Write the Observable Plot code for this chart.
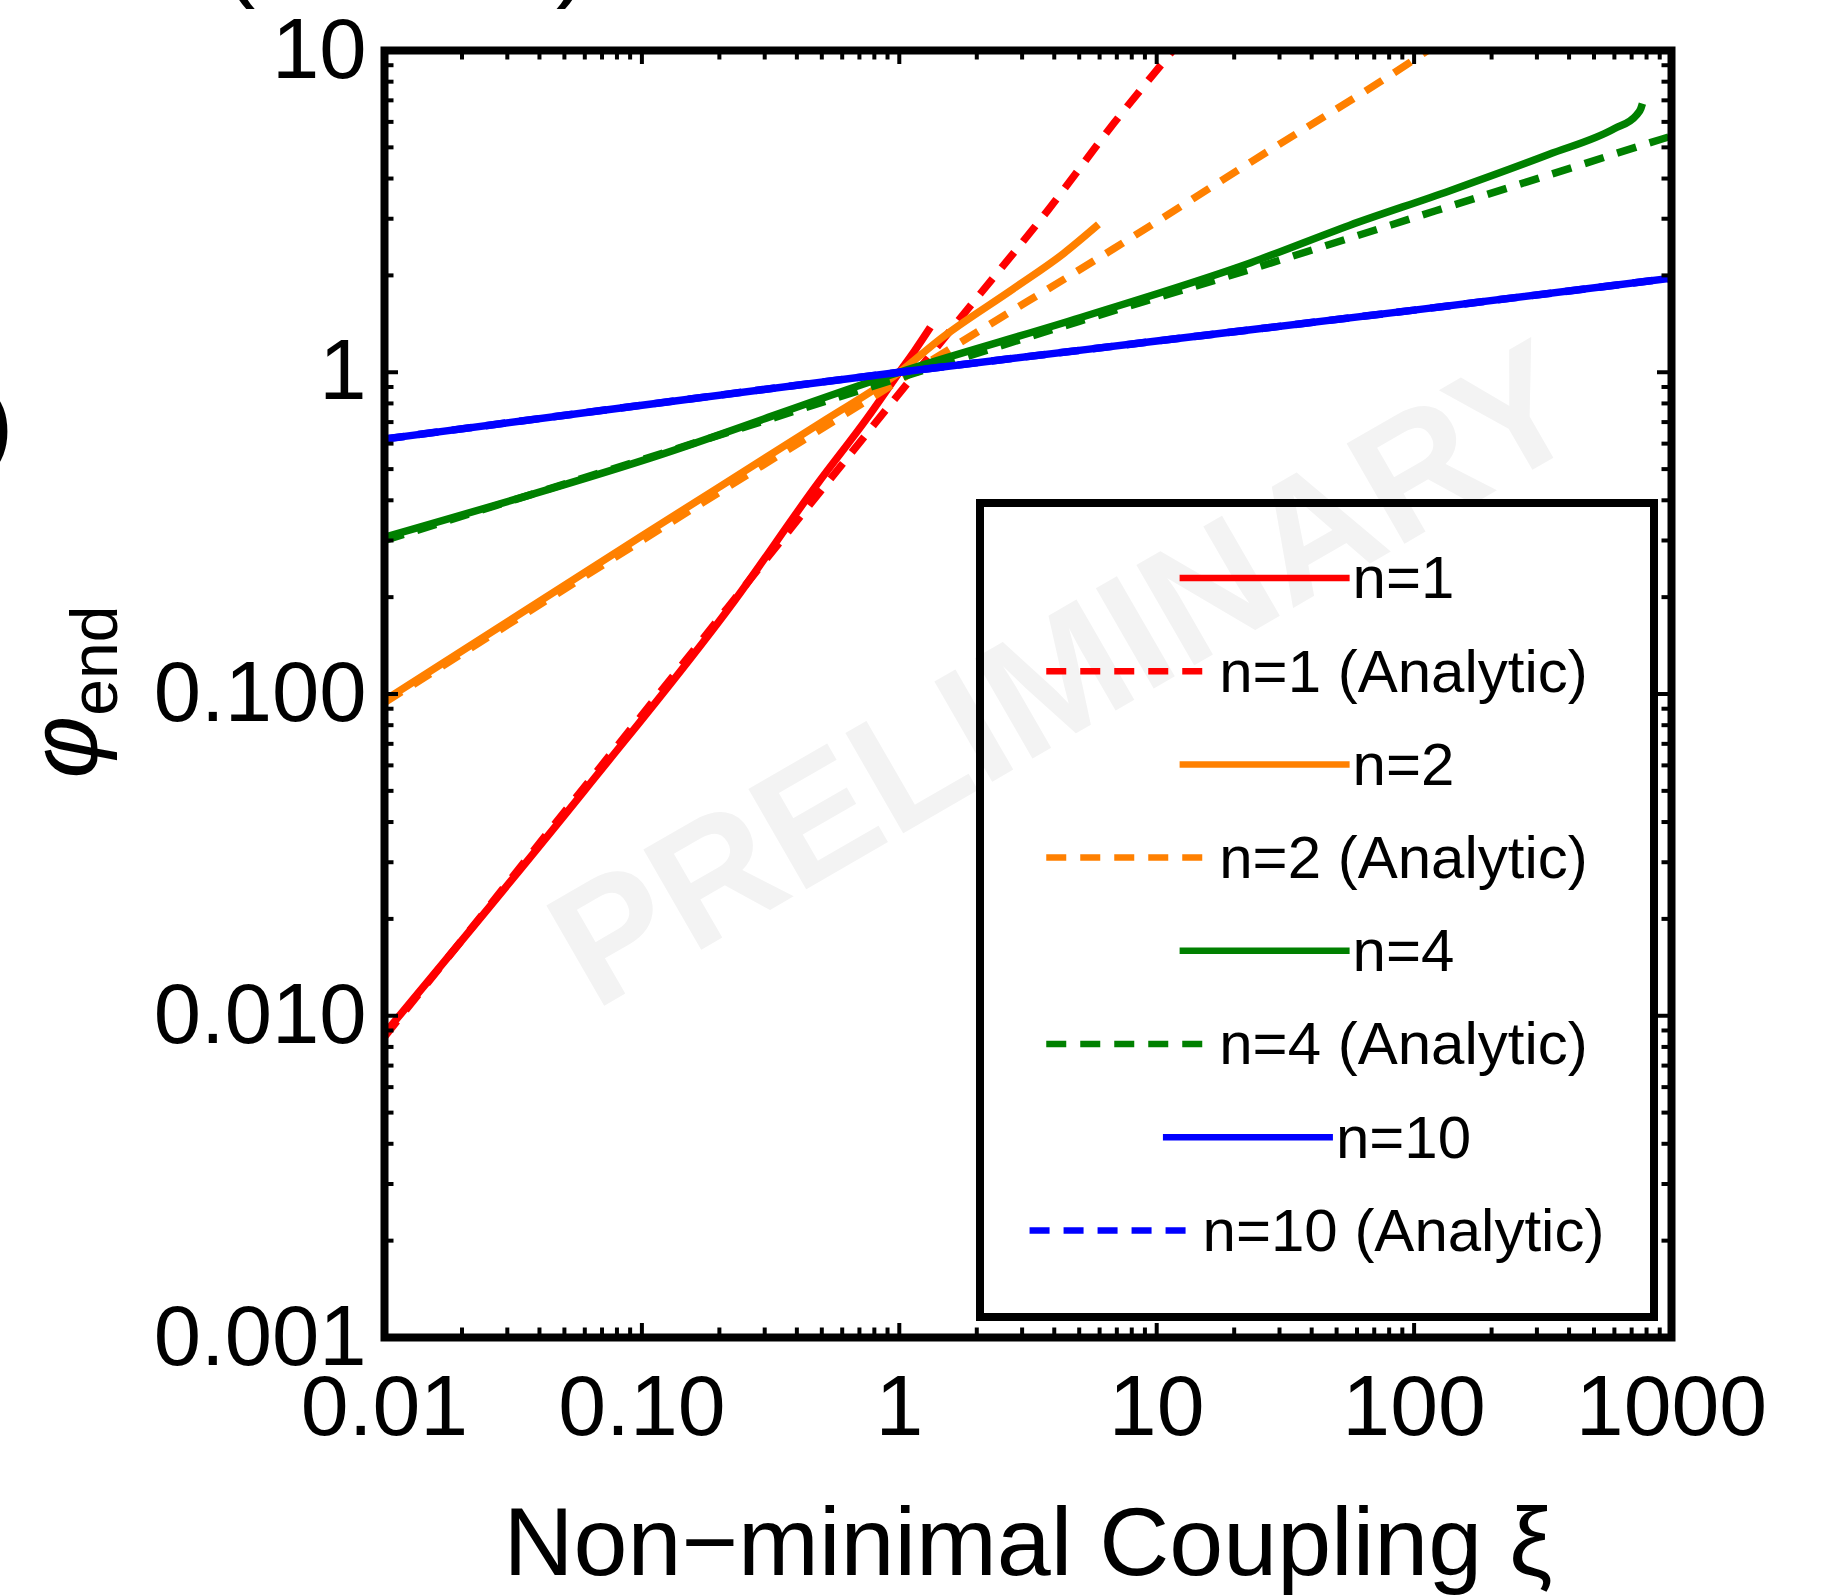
<!DOCTYPE html>
<html><head><meta charset="utf-8">
<script src="https://cdn.jsdelivr.net/npm/d3@7"></script>
<script src="https://cdn.jsdelivr.net/npm/@observablehq/plot@0.6"></script>
<style>
html,body{margin:0;padding:0;background:#fff;}
#chart{position:relative;width:1823px;height:1596px;overflow:hidden;}
svg{display:block;}
</style></head><body><div id="chart"></div>
<script>
// ---- layout ----
const W = 1823, H = 1596;
const mL = 384, mR = 152, mT = 50, mB = 259;
const innerW = W - mL - mR, innerH = H - mT - mB;
const FONT = "Liberation Sans, Arial, Helvetica, sans-serif";

// ---- ticks ----
const xTickValues = [0.01, 0.1, 1, 10, 100, 1000];
const xTickLabels = ["0.01", "0.10", "1", "10", "100", "1000"];
const yTickValues = [0.001, 0.01, 0.1, 1, 10];
const yTickLabels = ["0.001", "0.010", "0.100", "1", "10"];

// ---- series ----
const seriesNames = ["n=1", "n=1 (Analytic)", "n=2", "n=2 (Analytic)", "n=4", "n=4 (Analytic)", "n=10", "n=10 (Analytic)"];
const seriesColors = ["#ff0000", "#ff0000", "#ff8000", "#ff8000", "#008000", "#008000", "#0000ff", "#0000ff"];
const seriesDashed = [false, true, false, true, false, true, false, true];

const xi_n1   = [0.01, 0.0598, 0.229, 0.482, 0.75, 1.0, 1.15, 1.32];
const phi_n1  = [0.0088, 0.0501, 0.195, 0.451, 0.72, 1.0, 1.17, 1.38];
const xi_n1a  = [0.01, 0.1, 1, 2.07, 3.77, 6.8, 11.0, 12.5];
const phi_n1a = [0.0086, 0.086, 0.86, 1.76, 3.18, 5.93, 9.53, 10.8];
const xi_n2   = [0.01, 0.1, 0.5, 1.0, 1.445, 2.78, 4.35, 5.94];
const phi_n2  = [0.0955, 0.31, 0.70, 1.0, 1.27, 1.82, 2.34, 2.88];
const xi_n2a  = [0.01, 0.1, 1, 1.54, 6.8, 23.2, 98.8, 115];
const phi_n2a = [0.094, 0.30, 0.943, 1.17, 2.42, 4.5, 9.31, 10.1];
const xi_n4   = [0.01, 0.109, 1, 5.07, 23.2, 56, 137, 333, 601, 731, 760, 771];
const phi_n4  = [0.307, 0.543, 1.0, 1.48, 2.19, 2.86, 3.66, 4.75, 5.72, 6.30, 6.6, 6.84];
const xi_n4a  = [0.01, 0.1, 1, 5, 23.2, 76, 184, 447, 906, 1000];
const phi_n4a = [0.30, 0.535, 0.96, 1.44, 2.09, 2.82, 3.53, 4.42, 5.29, 5.42];
const xi_n10   = [0.01, 0.1, 1, 10, 100, 1000];
const phi_n10  = [0.62, 0.79, 1.0, 1.25, 1.56, 1.96];
const xi_n10a  = [0.01, 0.1, 1, 10, 100, 1000];
const phi_n10a = [0.62, 0.79, 1.0, 1.25, 1.56, 1.96];

const seriesXi  = [xi_n1, xi_n1a, xi_n2, xi_n2a, xi_n4, xi_n4a, xi_n10, xi_n10a];
const seriesPhi = [phi_n1, phi_n1a, phi_n2, phi_n2a, phi_n4, phi_n4a, phi_n10, phi_n10a];

const xLab = new Map(xTickValues.map((v, i) => [v, xTickLabels[i]]));
const yLab = new Map(yTickValues.map((v, i) => [v, yTickLabels[i]]));

// minor tick positions (2..9 per decade)
const xMinor = [], yMinor = [];
[0.01, 0.1, 1, 10, 100].forEach(d => { for (let m = 2; m <= 9; m++) xMinor.push(m * d); });
[0.001, 0.01, 0.1, 1].forEach(d => { for (let m = 2; m <= 9; m++) yMinor.push(m * d); });

const DASH = "20,14";
const LW = 7.5;

const lineMarks = seriesNames.map((name, i) => {
  const rows = seriesXi[i].map((x, j) => ({xi: x, phi: seriesPhi[i][j]}));
  return Plot.line(rows, {
    x: "xi", y: "phi", stroke: seriesColors[i], strokeWidth: LW,
    strokeDasharray: seriesDashed[i] ? DASH : null, curve: "monotone-x",
    strokeLinecap: "butt", strokeLinejoin: "round", clip: true
  });
});

const TW = 4, FW = 8, MAJ = 14, MIN = 9.5;
const tickStyle = {stroke: "black", strokeWidth: TW};

const plot = Plot.plot({
  width: W, height: H,
  marginLeft: mL, marginRight: mR, marginTop: mT, marginBottom: mB,
  style: {fontFamily: FONT, background: "white", color: "black", overflow: "visible"},
  x: {type: "log", domain: [0.01, 1000]},
  y: {type: "log", domain: [0.001, 10]},
  marks: [
    Plot.text(["PRELIMINARY"], {frameAnchor: "middle", dx: 38, dy: -17, rotate: -30,
      fontSize: 168, fontWeight: "bold", fill: "#f3f3f3", fontFamily: FONT,
      textAnchor: "middle", lineAnchor: "middle"}),
    ...lineMarks,
    // ticks (inward, all four sides)
    Plot.tickX(xTickValues, {x: d => d, insetTop: innerH - MAJ, ...tickStyle}),
    Plot.tickX(xTickValues, {x: d => d, insetBottom: innerH - MAJ, ...tickStyle}),
    Plot.tickX(xMinor, {x: d => d, insetTop: innerH - MIN, ...tickStyle}),
    Plot.tickX(xMinor, {x: d => d, insetBottom: innerH - MIN, ...tickStyle}),
    Plot.tickY(yTickValues, {y: d => d, insetRight: innerW - MAJ, ...tickStyle}),
    Plot.tickY(yTickValues, {y: d => d, insetLeft: innerW - MAJ, ...tickStyle}),
    Plot.tickY(yMinor, {y: d => d, insetRight: innerW - MIN, ...tickStyle}),
    Plot.tickY(yMinor, {y: d => d, insetLeft: innerW - MIN, ...tickStyle}),
    Plot.frame({stroke: "black", strokeWidth: FW}),
    Plot.axisX(xTickValues, {anchor: "bottom", tickSize: 0, tickPadding: 36,
      tickFormat: d => xLab.get(d), fontSize: 86, label: null}),
    Plot.axisY(yTickValues, {anchor: "left", tickSize: 0, tickPadding: 18,
      tickFormat: d => yLab.get(d), fontSize: 85, label: null}),
    Plot.text(["Non\u2212minimal Coupling \u03BE"], {frameAnchor: "bottom", dy: 206,
      fontSize: 97, textAnchor: "middle", lineAnchor: "middle", fontFamily: FONT})
  ]
});

document.getElementById("chart").appendChild(plot);
const svg = d3.select(plot);

// y axis label with subscript
const yl = svg.append("text")
  .attr("transform", "translate(97,692) rotate(-90)")
  .attr("text-anchor", "middle")
  .attr("font-family", FONT)
  .attr("fill", "black");
yl.append("tspan").attr("font-style", "italic").attr("font-size", 96).text("\u03C6");
yl.append("tspan").attr("font-size", 66).attr("dy", 20).text("end");

// legend
const LX = 980, LY = 503, LWd = 674, LH = 814;
const lg = svg.append("g").attr("font-family", FONT).attr("text-anchor", "start");
lg.append("rect").attr("x", LX).attr("y", LY).attr("width", LWd).attr("height", LH)
  .attr("fill", "none").attr("stroke", "black").attr("stroke-width", 8);
const rowStart = 578, rowStep = 93.2, sampleLen = 170, gap = 3;
seriesNames.forEach((name, i) => {
  const y = rowStart + i * rowStep;
  const t = lg.append("text").attr("font-size", 60).attr("fill", "black")
    .attr("text-anchor", "start")
    .attr("dy", "0.34em").attr("y", y).text(name);
  const tw = t.node().getComputedTextLength();
  const total = sampleLen + gap + tw;
  const x0 = LX + LWd / 2 - total / 2;
  t.attr("x", x0 + sampleLen + gap);
  lg.append("line").attr("x1", x0).attr("x2", x0 + sampleLen).attr("y1", y).attr("y2", y)
    .attr("stroke", seriesColors[i]).attr("stroke-width", 6.5)
    .attr("stroke-dasharray", seriesDashed[i] ? DASH : null);
});

// cropped fragments of neighbouring text at the picture edges
const frag = svg.append("g").attr("font-family", FONT).attr("text-anchor", "start");
frag.append("text").attr("x", 222).attr("y", -12).attr("font-size", 100).text("(");
frag.append("text").attr("x", 556).attr("y", -12).attr("font-size", 100).text(")");
frag.append("text").attr("x", -17).attr("y", 455).attr("font-size", 90).text(")");
</script></body></html>
